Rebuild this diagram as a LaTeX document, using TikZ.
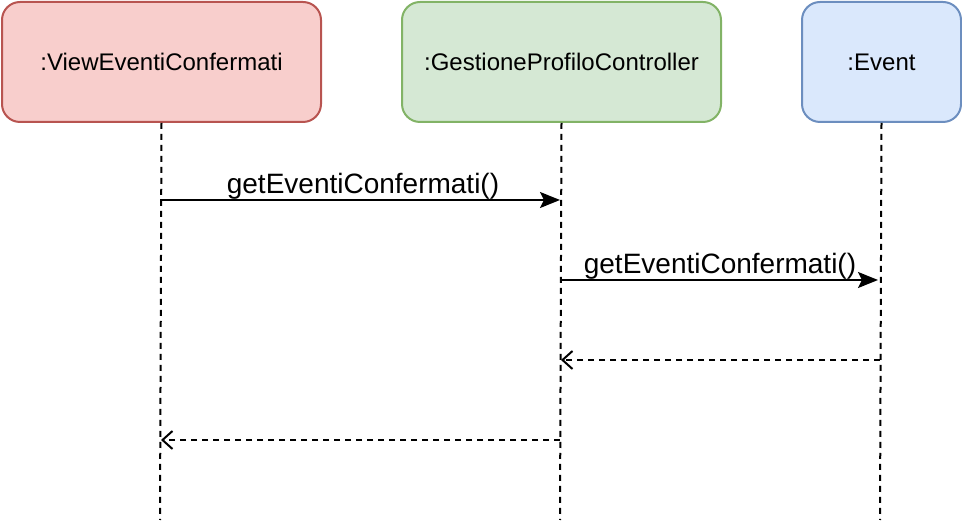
\documentclass[tikz,border=0pt]{standalone}
\usepackage{fontspec}
\setmainfont{Liberation Sans}
\usetikzlibrary{arrows.meta}
\definecolor{redfill}{HTML}{F8CECC}\definecolor{redline}{HTML}{B85450}
\definecolor{greenfill}{HTML}{D5E8D4}\definecolor{greenline}{HTML}{82B366}
\definecolor{bluefill}{HTML}{DAE8FC}\definecolor{blueline}{HTML}{6C8EBF}
\begin{document}
\begin{tikzpicture}[x=1pt,y=-1pt,
  objbox/.style={draw, rounded corners=18pt, line width=2pt, minimum height=120pt, inner sep=0pt, font=\fontsize{24}{28}\selectfont, anchor=north west},
  lifeline/.style={line width=2pt, dash pattern=on 6pt off 5pt},
  msg/.style={line width=2pt, -{Stealth[length=20pt,width=16pt,inset=4pt]}},
  ret/.style={line width=2pt, dash pattern=on 6pt off 5pt, -{Straight Barb[length=10pt,width=18pt,line width=2pt]}},
  lbl/.style={font=\fontsize{28}{32}\selectfont, inner sep=0pt, anchor=base}]
\useasboundingbox (0,0) rectangle (962,526);
\node[objbox, fill=redfill, draw=redline, minimum width=319pt] (v) at (1,1) {:ViewEventiConfermati};
\node[objbox, fill=greenfill, draw=greenline, minimum width=319pt] (g) at (401,1) {:GestioneProfiloController};
\node[objbox, fill=bluefill, draw=blueline, minimum width=159pt] (e) at (801,1) {:Event};
\coordinate (vend) at (160,520);
\coordinate (gend) at (560,520);
\coordinate (eend) at (880,520);
\draw[lifeline] (v.south) -- (vend);
\draw[lifeline] (g.south) -- (gend);
\draw[lifeline] (e.south) -- (eend);
\coordinate (v1) at (160,200); \coordinate (g1) at (560,200);
\coordinate (g2) at (560,280); \coordinate (e2) at (878,280);
\coordinate (e3) at (880,360); \coordinate (g3) at (561,360);
\coordinate (g4) at (560,440); \coordinate (v4) at (161,440);
\draw[msg] (v1) -- (g1);
\draw[msg] (g2) -- (e2);
\draw[ret] (e3) -- (g3);
\draw[ret] (g4) -- (v4);
\node[lbl] (l1) at (363,194) {getEventiConfermati()};
\node[lbl] (l2) at (720,274) {getEventiConfermati()};
\end{tikzpicture}
\end{document}
